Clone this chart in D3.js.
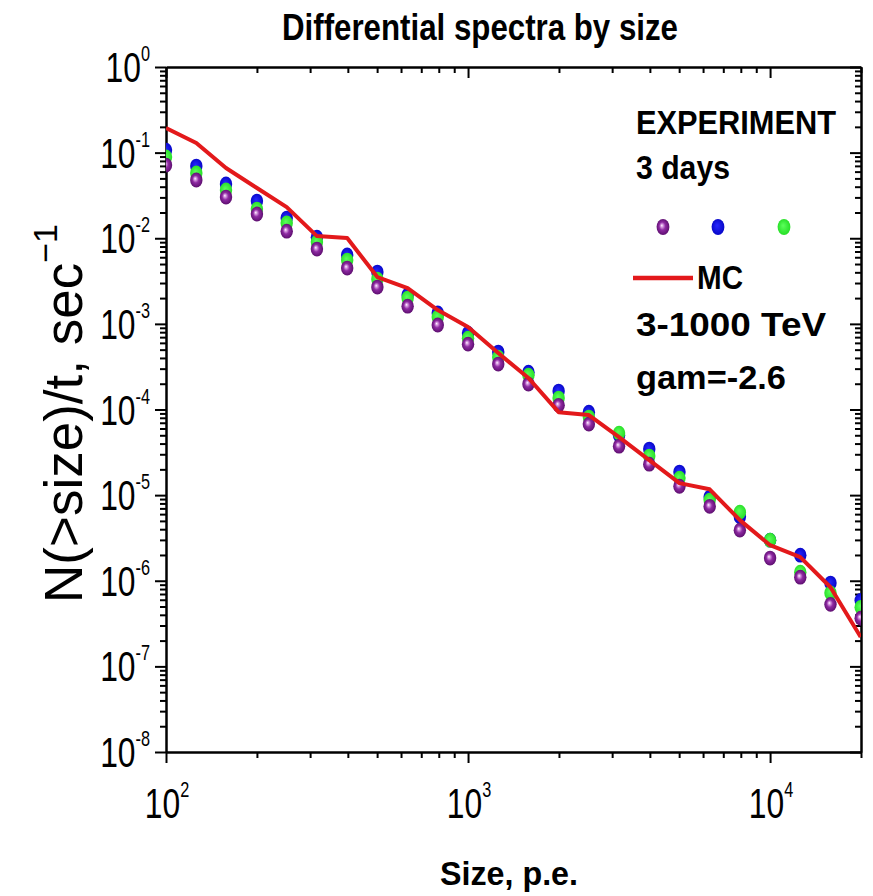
<!DOCTYPE html>
<html>
<head>
<meta charset="utf-8">
<title>Differential spectra by size</title>
<script src="https://cdnjs.cloudflare.com/ajax/libs/d3/7.8.5/d3.min.js"></script>
<style>
    body, html {
        margin: 0;
        padding: 0;
        background: #fff;
    }
    svg {
        display: block;
        font-family: Arial, "Liberation Sans", sans-serif;
    }
</style>
</head>
<body>
<svg id="chart" width="873" height="896"></svg>
<script>
    // shower size bins, p.e. (10 per decade)
    var sizes = [100, 126, 158, 200, 251, 316, 398, 501, 631, 794,
        1000, 1259, 1585, 1995, 2512, 3162, 3981, 5012, 6310, 7943,
        10000, 12589, 15849, 19953];

    // MC, 3-1000 TeV, gam=-2.6
    var mc = [0.194, 0.1295, 0.0661, 0.0386, 0.0231, 0.0106, 0.01005, 0.00352, 0.00262, 0.00145,
        9.2e-4, 4.56e-4, 2.33e-4, 9.3e-5, 8.6e-5, 4.76e-5, 2.56e-5, 1.38e-5, 1.17e-5, 5.1e-6,
        2.6e-6, 1.89e-6, 8.4e-7, 2.2e-7];

    // experiment, 3 days
    var dayBlue = [0.107, 0.0697, 0.043, 0.0272, 0.0172, 0.0103, 0.00637, 0.00403, 0.00217, 0.00134,
        7.8e-4, 4.69e-4, 2.73e-4, 1.64e-4, 9.3e-5, 5.0e-5, 3.45e-5, 1.86e-5, 9.5e-6, 5.6e-6,
        2.98e-6, 1.99e-6, 9.4e-7, 5.9e-7];
    var dayGreen = [0.089, 0.0578, 0.0366, 0.0219, 0.0151, 0.00903, 0.00556, 0.00334, 0.002, 0.0012,
        6.8e-4, 4.09e-4, 2.52e-4, 1.36e-4, 8.15e-5, 5.3e-5, 2.86e-5, 1.58e-5, 8.75e-6, 6.33e-6,
        2.98e-6, 1.26e-6, 7.2e-7, 4.9e-7];
    var dayPurple = [0.0716, 0.0479, 0.0303, 0.0192, 0.0121, 0.00748, 0.00449, 0.00269, 0.00161, 9.7e-4,
        5.8e-4, 3.39e-4, 1.98e-4, 1.12e-4, 6.75e-5, 3.73e-5, 2.3e-5, 1.27e-5, 7.4e-6, 3.9e-6,
        1.84e-6, 1.1e-6, 5.3e-7, 3.65e-7];

    var xDecades = [1e2, 1e3, 1e4];
    var xExp = ["2", "3", "4"];
    var yDecades = [1e0, 1e-1, 1e-2, 1e-3, 1e-4, 1e-5, 1e-6, 1e-7, 1e-8];
    var yExp = ["0", "-1", "-2", "-3", "-4", "-5", "-6", "-7", "-8"];

    var legendLines = ["EXPERIMENT", "3 days", "MC", "3-1000 TeV", "gam=-2.6"];

    (function () {
        var pL = 166, pR = 861, pT = 67, pB = 752;

        var svg = d3.select("#chart");

        var x = d3.scaleLog().domain([100, 20000]).range([pL, pR]);
        var y = d3.scaleLog().domain([1e-8, 1]).range([pB, pT]);

        function isMajor(d) {
            var l = Math.log10(d);
            return Math.abs(l - Math.round(l)) < 1e-6;
        }

        function logTicks(lo, hi) {
            var out = [];
            for (var e = Math.floor(Math.log10(lo)); e <= Math.ceil(Math.log10(hi)); e++) {
                for (var m = 1; m < 10; m++) {
                    var v = m * Math.pow(10, e);
                    if (v >= lo * 0.999 && v <= hi * 1.001) out.push(v);
                }
            }
            return out;
        }

        var xTicks = logTicks(100, 20000);
        var yTicks = logTicks(1e-8, 1);

        var defs = svg.append("defs");
        defs.append("clipPath").attr("id", "plotclip")
            .append("rect")
            .attr("x", pL).attr("y", pT)
            .attr("width", pR - pL).attr("height", pB - pT);

        var pg = defs.append("radialGradient").attr("id", "gPurple")
            .attr("cx", "50%").attr("cy", "50%").attr("r", "55%")
            .attr("fx", "40%").attr("fy", "40%");
        pg.append("stop").attr("offset", "0%").attr("stop-color", "#ffffff");
        pg.append("stop").attr("offset", "14%").attr("stop-color", "#e0a8e8");
        pg.append("stop").attr("offset", "45%").attr("stop-color", "#8e2aa2");
        pg.append("stop").attr("offset", "100%").attr("stop-color", "#560a68");

        var bg = defs.append("radialGradient").attr("id", "gBlue")
            .attr("cx", "50%").attr("cy", "50%").attr("r", "55%")
            .attr("fx", "42%").attr("fy", "40%");
        bg.append("stop").attr("offset", "0%").attr("stop-color", "#2626ff");
        bg.append("stop").attr("offset", "100%").attr("stop-color", "#0505c4");

        var gg = defs.append("radialGradient").attr("id", "gGreen")
            .attr("cx", "50%").attr("cy", "50%").attr("r", "55%")
            .attr("fx", "42%").attr("fy", "40%");
        gg.append("stop").attr("offset", "0%").attr("stop-color", "#5cff5c");
        gg.append("stop").attr("offset", "100%").attr("stop-color", "#22dd22");

        // axes: all ticks point left / down like the original
        function styleAxis(sel, horizontal) {
            sel.select(".domain").attr("stroke", "#000").attr("stroke-width", 2.5);
            sel.selectAll(".tick line")
                .attr("stroke", "#000").attr("stroke-width", 2)
                .attr(horizontal ? "y2" : "x2", function (d) {
                    var len = isMajor(d) ? 11 : 6;
                    return horizontal ? len : -len;
                });
        }

        svg.append("g").attr("transform", "translate(0," + pB + ")")
            .call(d3.axisBottom(x).tickValues(xTicks).tickFormat("").tickSizeOuter(0))
            .call(styleAxis, true);
        svg.append("g").attr("transform", "translate(0," + pT + ")")
            .call(d3.axisBottom(x).tickValues(xTicks).tickFormat("").tickSizeOuter(0))
            .call(styleAxis, true);
        svg.append("g").attr("transform", "translate(" + pL + ",0)")
            .call(d3.axisLeft(y).tickValues(yTicks).tickFormat("").tickSizeOuter(0))
            .call(styleAxis, false);
        svg.append("g").attr("transform", "translate(" + pR + ",0)")
            .call(d3.axisLeft(y).tickValues(yTicks).tickFormat("").tickSizeOuter(0))
            .call(styleAxis, false);

        // tick labels 10^n, narrow font
        function powLabel(g, exp, anchor) {
            var t = g.append("text")
                .attr("text-anchor", anchor)
                .attr("font-size", 43)
                .attr("fill", "#000");
            t.append("tspan").text("10");
            t.append("tspan").attr("font-size", 22).attr("dy", -21).text(exp);
        }

        yDecades.forEach(function (d, i) {
            var g = svg.append("g")
                .attr("transform", "translate(150," + (y(d) + 15) + ") scale(0.74,1)");
            powLabel(g, yExp[i], "end");
        });

        xDecades.forEach(function (d, i) {
            var g = svg.append("g")
                .attr("transform", "translate(" + (x(d) + 1) + ",818) scale(0.74,1)");
            powLabel(g, xExp[i], "middle");
        });

        // titles
        svg.append("text")
            .attr("x", 282).attr("y", 40)
            .attr("font-size", 36).attr("font-weight", "bold")
            .attr("textLength", 396).attr("lengthAdjust", "spacingAndGlyphs")
            .text("Differential spectra by size");

        svg.append("text")
            .attr("x", 440).attr("y", 885)
            .attr("font-size", 34).attr("font-weight", "bold")
            .attr("textLength", 138).attr("lengthAdjust", "spacingAndGlyphs")
            .text("Size, p.e.");

        var yl = svg.append("text")
            .attr("transform", "translate(82,603) rotate(-90)")
            .attr("font-size", 53)
            .attr("fill", "#000");
        yl.append("tspan").text("N(>size)/t,  sec");
        yl.append("tspan").attr("font-size", 34).attr("dy", -25).text("\u22121");

        // data
        var plot = svg.append("g").attr("clip-path", "url(#plotclip)");

        var series = [
            {vals: dayBlue, fill: "url(#gBlue)"},
            {vals: dayGreen, fill: "url(#gGreen)"},
            {vals: dayPurple, fill: "url(#gPurple)"}
        ];

        series.forEach(function (s) {
            plot.append("g").selectAll("ellipse")
                .data(s.vals)
                .enter()
                .append("ellipse")
                .attr("cx", function (d, i) { return x(sizes[i]); })
                .attr("cy", function (d) { return y(d); })
                .attr("rx", 6.2)
                .attr("ry", 7.4)
                .attr("fill", s.fill);
        });

        var line = d3.line()
            .x(function (d, i) { return x(sizes[i]); })
            .y(function (d) { return y(d); });

        plot.append("path")
            .datum(mc)
            .attr("d", line)
            .attr("fill", "none")
            .attr("stroke", "#e3191b")
            .attr("stroke-width", 4)
            .attr("stroke-linejoin", "round");

        // legend
        var leg = svg.append("g").attr("font-weight", "bold").attr("font-size", 34).attr("fill", "#000");
        leg.append("text").attr("x", 636).attr("y", 134)
            .attr("textLength", 200).attr("lengthAdjust", "spacingAndGlyphs").text(legendLines[0]);
        leg.append("text").attr("x", 636).attr("y", 179)
            .attr("textLength", 94).attr("lengthAdjust", "spacingAndGlyphs").text(legendLines[1]);

        [["url(#gPurple)", 663], ["url(#gBlue)", 718], ["url(#gGreen)", 784]].forEach(function (p) {
            leg.append("ellipse")
                .attr("cx", p[1]).attr("cy", 227)
                .attr("rx", 6.4).attr("ry", 8)
                .attr("fill", p[0]);
        });

        leg.append("line")
            .attr("x1", 633).attr("x2", 693)
            .attr("y1", 278).attr("y2", 278)
            .attr("stroke", "#e3191b").attr("stroke-width", 4.5);
        leg.append("text").attr("x", 697).attr("y", 289)
            .attr("textLength", 46).attr("lengthAdjust", "spacingAndGlyphs").text(legendLines[2]);
        leg.append("text").attr("x", 636).attr("y", 336)
            .attr("textLength", 190).attr("lengthAdjust", "spacingAndGlyphs").text(legendLines[3]);
        leg.append("text").attr("x", 636).attr("y", 389)
            .attr("textLength", 150).attr("lengthAdjust", "spacingAndGlyphs").text(legendLines[4]);
    })();
</script>
</body>
</html>
